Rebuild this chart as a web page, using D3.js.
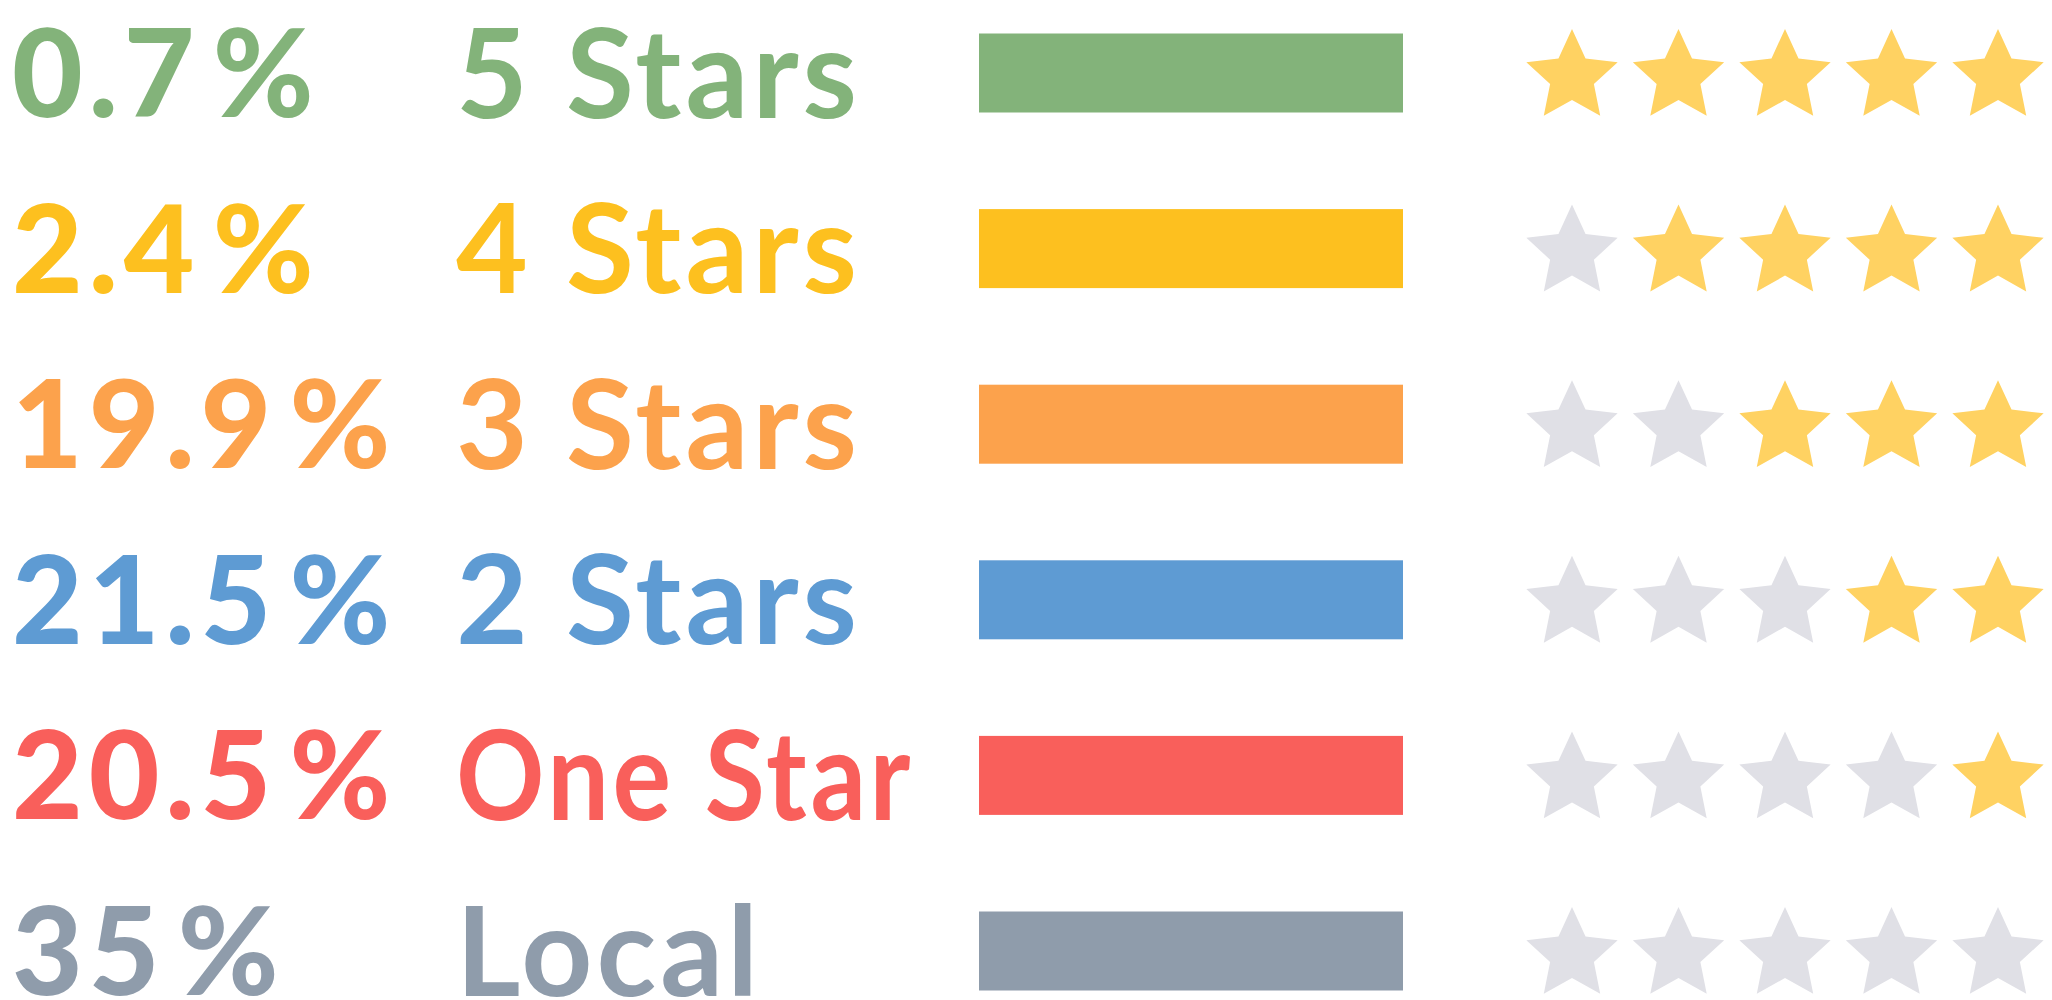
<!DOCTYPE html>
<meta charset="utf-8">
<style>

    body {
        margin: 0;
        background: #fff;
    }

    .pct {
        font-family: Lato, "Open Sans", sans-serif;
        font-weight: 900;
        font-size: 122px;
        letter-spacing: 6px;
    }

    .label {
        font-family: Lato, "Open Sans", sans-serif;
        font-weight: 700;
        font-size: 124px;
        letter-spacing: 4px;
    }

</style>
<svg width="2052" height="1000"></svg>
<script src="https://d3js.org/d3.v7.min.js"></script>
<script>
    var svg = d3.select("svg");

    var categories = ["5 Stars", "4 Stars", "3 Stars", "2 Stars", "One Star", "Local"];
    var percents = [0.7, 2.4, 19.9, 21.5, 20.5, 35];
    var starCounts = [5, 4, 3, 2, 1, 0];
    var colors = ["#83b37a", "#fdc01f", "#fca24c", "#5e9bd3", "#f95f5b", "#8f9cab"];
    var starSlots = [1, 2, 3, 4, 5];

    var rows = categories.map(function(c, i) {
        return {label: c, pct: percents[i], stars: starCounts[i], color: colors[i]};
    });

    var y = d3.scalePoint()
        .domain(categories)
        .range([73, 951]);

    var barX = d3.scaleLinear()
        .domain([0, 1])
        .range([979, 1403]);

    var starX = d3.scalePoint()
        .domain(starSlots)
        .range([1572, 1998]);

    var barHeight = 79,
        labelX = 456,
        labelMax = 458;

    // 5-point star, outer radius R, inner radius r
    function starPath(R, r) {
        var pts = [];
        for (var k = 0; k < 10; k++) {
            var a = -Math.PI / 2 + k * Math.PI / 5,
                rad = k % 2 ? r : R;
            pts.push([Math.cos(a) * rad, Math.sin(a) * rad]);
        }
        return "M" + pts.join("L") + "Z";
    }

    var row = svg.selectAll(".row")
        .data(rows)
        .enter().append("g")
        .attr("class", "row")
        .attr("transform", function(d) { return "translate(0," + y(d.label) + ")"; });

    var pct = row.append("text")
        .attr("class", "pct")
        .attr("x", 12)
        .attr("dy", "0.36em")
        .attr("fill", function(d) { return d.color; })
        .text(function(d) { return String(d.pct); });

    pct.append("tspan")
        .attr("dx", "0.1em")
        .text("%");

    row.append("text")
        .attr("class", "label")
        .attr("x", labelX)
        .attr("dy", "0.36em")
        .attr("fill", function(d) { return d.color; })
        .text(function(d) { return d.label; })
        .each(function() {
            // long labels are squeezed to fit before the bar
            if (this.getComputedTextLength() > labelMax) {
                d3.select(this)
                    .attr("textLength", labelMax)
                    .attr("lengthAdjust", "spacingAndGlyphs");
            }
        });

    row.append("rect")
        .attr("x", barX(0))
        .attr("y", -barHeight / 2)
        .attr("width", barX(1) - barX(0))
        .attr("height", barHeight)
        .attr("fill", function(d) { return d.color; });

    row.selectAll(".star")
        .data(function(d) {
            return starSlots.map(function(s) { return {slot: s, on: s > 5 - d.stars}; });
        })
        .enter().append("path")
        .attr("class", "star")
        .attr("transform", function(d) { return "translate(" + starX(d.slot) + ",4)"; })
        .attr("d", starPath(48, 23))
        .attr("fill", function(d) { return d.on ? "#ffd262" : "#e0e0e6"; });

</script>
